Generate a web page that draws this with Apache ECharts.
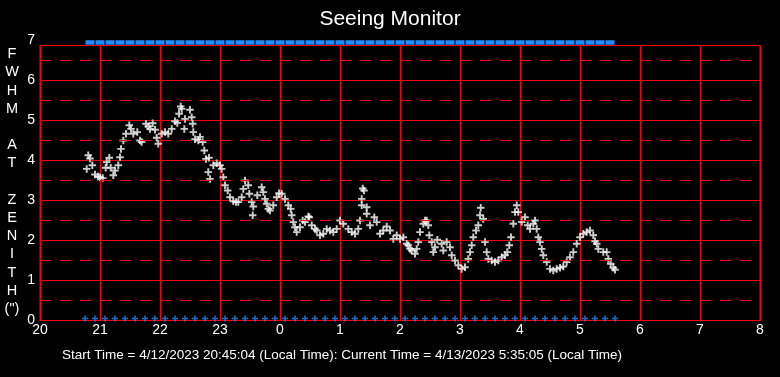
<!DOCTYPE html>
<html>
<head>
<meta charset="utf-8">
<title>Seeing Monitor</title>
<script src="https://cdn.jsdelivr.net/npm/echarts@6/dist/echarts.min.js"></script>
<style>
  html, body { margin: 0; padding: 0; background: #000; }
  #chart { width: 780px; height: 377px; }
</style>
</head>
<body>
<div id="chart"></div>
<script>
// x is minutes after 20:00 local time, y is FWHM at zenith in arcsec
const seeingMinutes = [
  46.7, 48.3, 50, 52.3, 55, 58, 60, 62.7, 65.7, 66.7, 69.3, 70.7, 73.3, 75, 78.3, 80, 81, 83.3, 86, 89.3,
  91, 93.3, 97.3, 100, 101.7, 106, 108.3, 110, 112.7, 115, 116.7, 118.3, 121.7, 125, 128.3, 131.7, 135, 137.3, 139, 140.7,
  141.7, 144.3, 145, 150, 151.7, 152.7, 153.3, 155, 158.3, 160, 162.7, 164.3, 166, 168.3, 169, 170, 173.3, 176.7, 180, 181.7,
  183.3, 185, 187.7, 190, 193.3, 196, 198.3, 201.7, 203.3, 205, 208.3, 209.3, 211.7, 212.7, 213.3, 217.3, 221.7, 223.3, 225, 226.7,
  228.3, 230, 233.3, 236.7, 239, 241.7, 245, 248.3, 250.7, 251.7, 253.3, 255, 256.7, 260, 262.7, 265, 268.3, 269.3, 271.7, 275,
  276.7, 280, 283.3, 286.7, 290, 293.3, 296.7, 300, 303.3, 308.3, 311.7, 315, 318.3, 320, 321.7, 321.7, 324, 322.7, 326.7, 326.7,
  330, 334.3, 336.7, 340, 343.3, 346.7, 350, 353.3, 356.7, 360, 363.3, 366.7, 368.3, 370, 371.7, 375, 376.7, 378.3, 380, 383.3,
  385, 386.7, 388.3, 389.3, 391.7, 393.3, 395, 397.3, 401.7, 403.3, 406.7, 410, 411.7, 415, 418.3, 421.7, 425, 428.3, 430, 431.7,
  433.3, 436, 438.3, 440, 440.7, 443.3, 445, 446.7, 448.3, 451.7, 455, 458.3, 461.7, 465, 467.3, 469.3, 471, 473.3, 475, 476.7,
  478.3, 481.7, 485, 487.7, 490, 493.3, 495, 496.7, 498.3, 500, 501.7, 503.3, 506.7, 510, 513.3, 516.7, 520, 523.3, 526.7, 530,
  533.3, 536.7, 540, 543.3, 546.7, 550, 553.3, 555, 556.7, 558.3, 563.3, 566.7, 568.3, 570.7, 573.3, 575
]
const seeingFwhm = [
  3.79, 4.13, 4.05, 3.88, 3.65, 3.60, 3.58, 3.56, 3.82, 3.96, 4.07, 3.82, 3.63, 3.75, 3.88, 4.08, 4.29, 4.50, 4.67, 4.88,
  4.79, 4.67, 4.71, 4.50, 4.46, 4.92, 4.85, 4.79, 4.93, 4.77, 4.57, 4.42, 4.67, 4.71, 4.67, 4.79, 4.98, 4.94, 5.17, 5.35,
  5.29, 4.79, 5.04, 5.27, 5.08, 4.92, 4.71, 4.53, 4.50, 4.59, 4.46, 4.25, 4.04, 3.71, 4.07, 3.54, 3.88, 3.93, 3.88, 3.79,
  3.58, 3.38, 3.25, 3.08, 2.98, 2.96, 2.96, 3.08, 3.29, 3.50, 3.38, 3.17, 2.96, 2.63, 2.85, 3.13, 3.33, 3.21, 3.04, 2.92,
  2.79, 2.75, 2.88, 3.08, 3.18, 3.17, 3.04, 2.88, 2.79, 2.63, 2.46, 2.33, 2.21, 2.33, 2.50, 2.46, 2.60, 2.58, 2.38, 2.29,
  2.25, 2.13, 2.17, 2.29, 2.25, 2.21, 2.29, 2.50, 2.42, 2.29, 2.21, 2.17, 2.29, 2.50, 2.88, 3.04, 3.25, 3.30, 2.83, 2.67,
  2.38, 2.58, 2.46, 2.17, 2.25, 2.35, 2.25, 2.04, 2.13, 2.04, 2.08, 1.92, 1.88, 1.79, 1.75, 1.67, 1.79, 1.96, 2.21, 2.42,
  2.50, 2.50, 2.38, 2.13, 1.96, 1.71, 1.83, 2.02, 1.92, 1.75, 1.96, 1.83, 1.63, 1.50, 1.38, 1.29, 1.33, 1.54, 1.71, 1.88,
  2.08, 2.25, 2.38, 2.63, 2.82, 2.54, 1.96, 1.71, 1.54, 1.50, 1.46, 1.50, 1.58, 1.63, 1.71, 1.88, 2.08, 2.42, 2.71, 2.88,
  2.71, 2.46, 2.58, 2.38, 2.29, 2.42, 2.50, 2.29, 2.08, 1.96, 1.79, 1.63, 1.46, 1.29, 1.25, 1.29, 1.32, 1.35, 1.46, 1.58,
  1.71, 1.92, 2.08, 2.17, 2.21, 2.25, 2.13, 1.98, 1.92, 1.79, 1.71, 1.71, 1.54, 1.42, 1.32, 1.27
]
// sample times (every 10 min) shown as blue marks at bottom and top
const sampleMinutes = [
  45, 55, 65, 75, 85, 95, 105, 115, 125, 135, 145, 155, 165, 175, 185, 195, 205, 215, 225, 235,
  245, 255, 265, 275, 285, 295, 305, 315, 325, 335, 345, 355, 365, 375, 385, 395, 405, 415, 425, 435,
  445, 455, 465, 475, 485, 495, 505, 515, 525, 535, 545, 555, 565, 575
]
const sampleLowLevel = 0.05
const sampleHighLevel = 6.95
const halfLines = [0.5, 1.5, 2.5, 3.5, 4.5, 5.5, 6.5]
const hourTicks = [20, 21, 22, 23, 0, 1, 2, 3, 4, 5, 6, 7, 8]
const yTicks = [0, 1, 2, 3, 4, 5, 6, 7]

const startText = 'Start Time = 4/12/2023 20:45:04 (Local Time): Current Time = 4/13/2023 5:35:05 (Local Time)'
const yNameText = 'F\nW\nH\nM\n\nA\nT\n\nZ\nE\nN\nI\nT\nH\n(")'

const RED = '#ff0000'
const BLUE = '#1e8cff'
const FONT = '"Liberation Sans", Arial, sans-serif'
const PLUS = 'path://M2.6,0H4.4V2.6H7V4.4H4.4V7H2.6V4.4H0V2.6H2.6Z'

const seeingData = seeingMinutes.map((m, i) => [m, seeingFwhm[i]])
const lowData = sampleMinutes.map((m) => [m, sampleLowLevel])
const highData = sampleMinutes.map((m) => [m, sampleHighLevel])

const chart = echarts.init(document.getElementById('chart'), null, { renderer: 'canvas' })

chart.setOption({
  backgroundColor: '#000',
  animation: false,
  title: [
    {
      text: 'Seeing Monitor',
      left: 'center',
      top: 9,
      padding: 0,
      textStyle: { color: '#fff', fontSize: 21, fontWeight: 'normal', fontFamily: FONT },
    },
    {
      text: yNameText,
      left: 12,
      top: 45,
      padding: 0,
      textAlign: 'center',
      textStyle: { color: '#fff', fontSize: 14.5, lineHeight: 18.2, fontWeight: 'normal', fontFamily: FONT },
    },
    {
      text: startText,
      left: 62,
      top: 348,
      padding: 0,
      textStyle: { color: '#fff', fontSize: 13.5, fontWeight: 'normal', fontFamily: FONT },
    },
  ],
  grid: [
    // frame grid, top edge sits at 6.875
    { left: 40, right: 20, top: 45.5, bottom: 56.5, show: true, borderColor: RED, borderWidth: 1, backgroundColor: 'transparent' },
    // data grid, 0..7
    { left: 40, right: 20, top: 40.5, bottom: 56.5 },
  ],
  xAxis: [
    {
      gridIndex: 0,
      type: 'value',
      min: 0,
      max: 720,
      interval: 60,
      axisLine: { show: true, lineStyle: { color: RED } },
      axisTick: { show: false },
      splitLine: { show: true, lineStyle: { color: RED, width: 1 } },
      axisLabel: {
        color: '#fff',
        fontSize: 14,
        fontFamily: FONT,
        margin: 3,
        formatter: (v) => String(hourTicks[Math.round(v / 60)]),
      },
    },
    { gridIndex: 1, type: 'value', min: 0, max: 720, show: false },
  ],
  yAxis: [
    {
      gridIndex: 0,
      type: 'value',
      min: 0,
      max: 6.875,
      interval: 1,
      axisLine: { show: true, lineStyle: { color: RED } },
      axisTick: { show: false },
      axisLabel: { show: false },
      splitLine: { show: true, lineStyle: { color: RED, width: 1 } },
    },
    {
      gridIndex: 1,
      type: 'value',
      min: 0,
      max: 7,
      interval: 1,
      axisLine: { show: false },
      axisTick: { show: false },
      splitLine: { show: false },
      axisLabel: {
        color: '#fff',
        fontSize: 14,
        fontFamily: FONT,
        margin: 5,
        formatter: (v) => String(yTicks[Math.round(v)]),
      },
    },
  ],
  series: [
    {
      name: 'half lines',
      type: 'scatter',
      xAxisIndex: 0,
      yAxisIndex: 0,
      data: [],
      silent: true,
      markLine: {
        silent: true,
        symbol: 'none',
        label: { show: false },
        lineStyle: { color: RED, width: 1, type: [11, 9] },
        data: halfLines.map((v) => ({ yAxis: v })),
      },
    },
    {
      name: 'samples top',
      type: 'line',
      xAxisIndex: 1,
      yAxisIndex: 1,
      data: highData,
      clip: false,
      symbol: 'rect',
      symbolSize: [1, 5],
      itemStyle: { color: '#000' },
      lineStyle: { color: BLUE, width: 4.5 },
      z: 3,
    },
    {
      name: 'samples bottom',
      type: 'scatter',
      xAxisIndex: 1,
      yAxisIndex: 1,
      data: lowData,
      symbol: PLUS,
      symbolSize: 6,
      itemStyle: { color: BLUE },
      z: 3,
    },
    {
      name: 'FWHM',
      type: 'scatter',
      xAxisIndex: 1,
      yAxisIndex: 1,
      data: seeingData,
      symbol: PLUS,
      symbolSize: 7.5,
      itemStyle: { color: '#fff' },
      z: 4,
    },
  ],
})
</script>
</body>
</html>
